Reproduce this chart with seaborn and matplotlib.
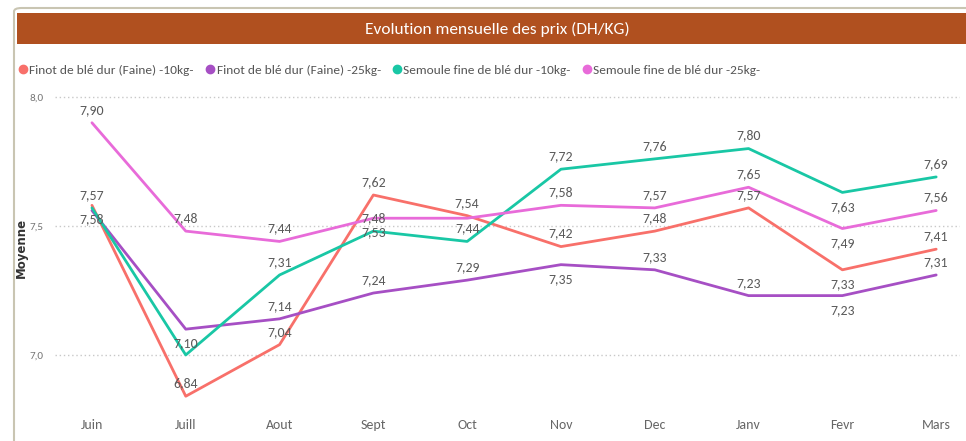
import matplotlib
matplotlib.use("Agg")
import matplotlib.pyplot as plt
import seaborn as sns
import pandas as pd
from matplotlib.lines import Line2D
from matplotlib.patches import Rectangle, FancyBboxPatch

# Monthly prices (DH/KG)
months = ["Juin", "Juill", "Aout", "Sept", "Oct", "Nov", "Dec", "Janv", "Fevr", "Mars"]
finot_10 = [7.58, 6.84, 7.04, 7.62, 7.54, 7.42, 7.48, 7.57, 7.33, 7.41]
finot_25 = [7.56, 7.10, 7.14, 7.24, 7.29, 7.35, 7.33, 7.23, 7.23, 7.31]
semoule_10 = [7.57, 7.00, 7.31, 7.48, 7.44, 7.72, 7.76, 7.80, 7.63, 7.69]
semoule_25 = [7.90, 7.48, 7.44, 7.53, 7.53, 7.58, 7.57, 7.65, 7.49, 7.56]

series_names = [
    "Finot de blé dur (Faine) -10kg-",
    "Finot de blé dur (Faine) -25kg-",
    "Semoule fine de blé dur -10kg-",
    "Semoule fine de blé dur -25kg-",
]
colors = ["#F8706A", "#A64FC4", "#19C7A5", "#E86BD9"]

df = pd.concat(
    [
        pd.DataFrame({"mois": months, "prix": vals, "produit": name})
        for name, vals in zip(series_names, [finot_10, finot_25, semoule_10, semoule_25])
    ],
    ignore_index=True,
)

# labels drawn below the point / not drawn at all (to avoid overlaps)
below = {(0, "Juin"), (3, "Sept"), (0, "Fevr"), (1, "Fevr"), (2, "Fevr"), (3, "Fevr"),
         (1, "Juill"), (1, "Nov")}
hidden = {(1, "Juin"), (2, "Juill"), (3, "Oct")}

sns.set_style("white")
plt.rcParams["font.family"] = ["Carlito", "DejaVu Sans"]

fig = plt.figure(figsize=(9.66, 4.41), dpi=100)
ax = fig.add_axes([55 / 966, 1 - 405 / 441, 905 / 966, 315 / 441])

sns.lineplot(
    data=df, x="mois", y="prix", hue="produit", palette=colors,
    hue_order=series_names, sort=False, linewidth=2.0, legend=False, ax=ax,
)

for i, name in enumerate(series_names):
    sub = df[df["produit"] == name]
    for k, (m, v) in enumerate(zip(sub["mois"], sub["prix"])):
        if (i, m) in hidden:
            continue
        dy = -6 if (i, m) in below else 5
        ax.annotate(
            f"{v:.2f}".replace(".", ","), (k, v), xytext=(0, dy),
            textcoords="offset points", ha="center",
            va="top" if dy < 0 else "bottom", fontsize=10, color="#5A5A5A",
        )

ax.set_xlim(-0.394, 9.254)
ax.set_ylim(6.806, 8.027)
ax.set_yticks([7.0, 7.5, 8.0])
ax.set_yticklabels(["7,0", "7,5", "8,0"], fontsize=8, color="#777777")
ax.tick_params(axis="x", labelsize=10, labelcolor="#666666", length=0, pad=10)
ax.tick_params(axis="y", length=0, pad=8)
ax.yaxis.grid(True, linestyle=(0, (1, 2)), color="#C8C8C8", linewidth=1)
ax.xaxis.grid(False)
ax.set_xlabel("")
ax.set_ylabel("Moyenne", fontsize=8.5, fontweight="bold", family="DejaVu Sans",
              color="#333333", labelpad=1)
sns.despine(ax=ax, left=True, bottom=True)

# card frame and title bar
fig.patches.append(FancyBboxPatch(
    (14 / 966, -0.05), 1.0, 1 - 8 / 441 + 0.05,
    boxstyle="round,pad=0,rounding_size=0.008", transform=fig.transFigure,
    facecolor="none", edgecolor="#C9C5B2", linewidth=1.5, zorder=0,
))
fig.patches.append(Rectangle(
    (17 / 966, 1 - 44 / 441), 1.0, 31 / 441, transform=fig.transFigure,
    facecolor="#B0501F", edgecolor="none", zorder=1,
))
fig.text(497 / 966, 1 - 29 / 441, "Evolution mensuelle des prix (DH/KG)",
         color="white", fontsize=12.5, ha="center", va="center")

handles = [
    Line2D([], [], marker="o", linestyle="none", markersize=6,
           markerfacecolor=c, markeredgecolor=c)
    for c in colors
]
fig.legend(
    handles, series_names, loc="center left", bbox_to_anchor=(16 / 966, 1 - 70 / 441),
    ncol=4, frameon=False, fontsize=9.6, handletextpad=0.0, columnspacing=0.7,
    handlelength=1.0, borderaxespad=0, borderpad=0, labelcolor="#555555",
)

fig.savefig("out.png", dpi=100)
